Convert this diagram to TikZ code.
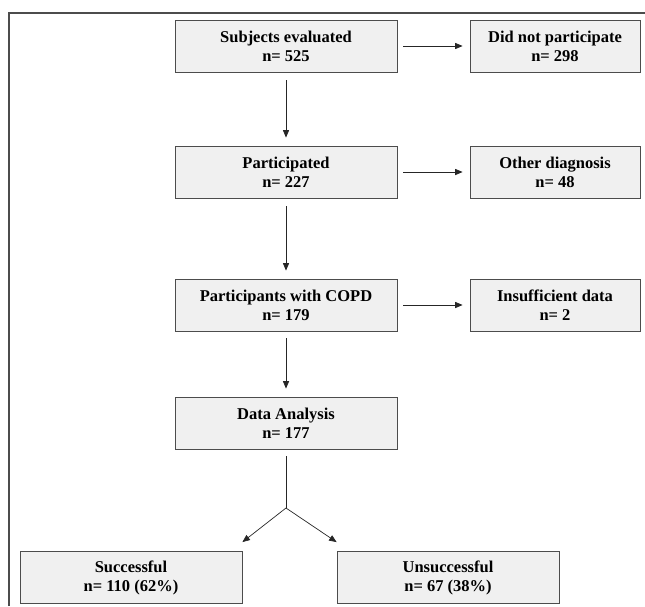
\documentclass[tikz,border=0pt]{standalone}
\usepackage{fontspec}
\setmainfont{Liberation Serif}
\usetikzlibrary{arrows}
\usetikzlibrary{shapes}

\begin{document}
\begin{tikzpicture}[x = 1pt, y = -1pt, font=\bfseries\fontsize{16.5}{19}\selectfont]
	\tikzstyle{boxStyle}=[shape = rectangle, draw = black!70, line width = 0.9pt, fill = gray!12, align = center, minimum height = 52pt, inner sep = 0pt]
	\tikzstyle{mainStyle}=[boxStyle, minimum width = 222pt]
	\tikzstyle{sideStyle}=[boxStyle, minimum width = 170pt]
	\tikzstyle{arrowStyle}=[-triangle 45, black!85, line width = 0.7pt]
	\useasboundingbox (0,0) rectangle (645,606);
	\draw[black!70, line width = 1.3pt] (9,606) -- (9,13) -- (645,13);
	\node[mainStyle] (v0) at (286,46) {Subjects evaluated\\n= 525};
	\node[sideStyle] (v1) at (555,46) {Did not participate\\n= 298};
	\node[mainStyle] (v2) at (286,172) {Participated\\n= 227};
	\node[sideStyle] (v3) at (555,172) {Other diagnosis\\n= 48};
	\node[mainStyle] (v4) at (286,305) {Participants with COPD\\n= 179};
	\node[sideStyle] (v5) at (555,305) {Insufficient data\\n= 2};
	\node[mainStyle] (v6) at (286,423) {Data Analysis\\n= 177};
	\node[mainStyle] (v7) at (131,577.5) {Successful\\n= 110 (62\%)};
	\node[mainStyle] (v8) at (448,577.5) {Unsuccessful\\n= 67 (38\%)};
	\coordinate (fork) at (286,508);
	\draw[arrowStyle, shorten <= 6pt, shorten >= 7pt] (v0) -- (v1);
	\draw[arrowStyle, shorten <= 6pt, shorten >= 7pt] (v2) -- (v3);
	\draw[arrowStyle, shorten <= 6pt, shorten >= 7pt] (v4) -- (v5);
	\draw[arrowStyle, shorten <= 8pt, shorten >= 8pt] (v0) -- (v2);
	\draw[arrowStyle, shorten <= 8pt, shorten >= 8pt] (v2) -- (v4);
	\draw[arrowStyle, shorten <= 7pt, shorten >= 8pt] (v4) -- (v6);
	\draw[black!85, line width = 0.7pt, shorten <= 7pt] (v6.south) -- (fork);
	\draw[arrowStyle] (fork) -- ([yshift = 9pt]v7.north east);
	\draw[arrowStyle] (fork) -- ([yshift = 9pt]v8.north west);
\end{tikzpicture}
\end{document}
